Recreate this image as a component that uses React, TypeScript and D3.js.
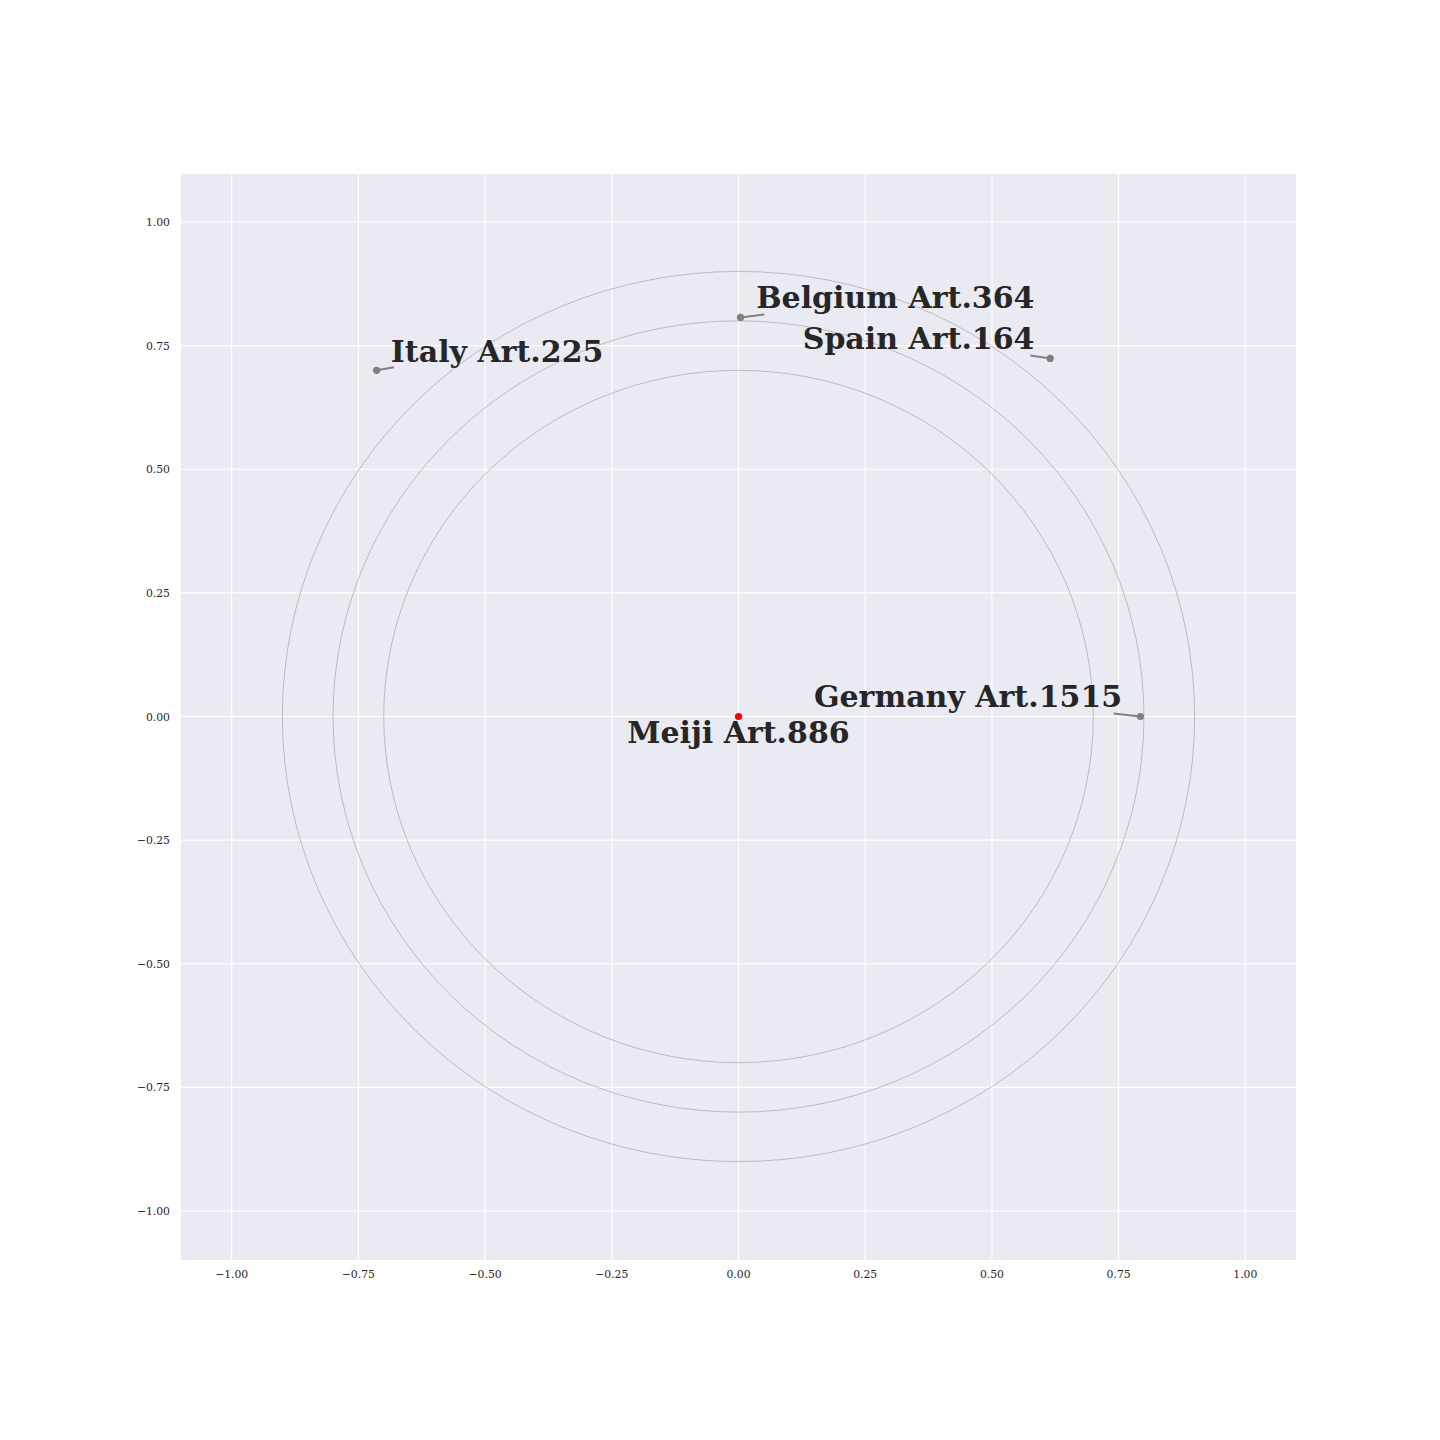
import React from "react";
import * as d3 from "d3";

const names = ["Meiji Art.886", "Germany Art.1515", "Belgium Art.364", "Spain Art.164", "Italy Art.225"];
const pointX = [0, 0.793, 0.004, 0.615, -0.714];
const pointY = [0, 0.0, 0.807, 0.724, 0.7];
const pointColor = ["#ff0000", "#808080", "#808080", "#808080", "#808080"];
const labelX = [0, 0.757, 0.584, 0.584, -0.686];
const labelY = [-0.053, 0.02, 0.827, 0.744, 0.716];
const labelAnchor = ["middle", "end", "end", "end", "start"];
const leaderX = [null, 0.74, 0.051, 0.576, -0.68];
const leaderY = [null, 0.006, 0.813, 0.73, 0.706];
const ringRadii = [0.7, 0.8, 0.9];
const ticks = [-1, -0.75, -0.5, -0.25, 0, 0.25, 0.5, 0.75, 1];

export default function App() {
  const W = 1440, H = 1440;
  const L = 181, R = 1296, T = 174, B = 1260;
  const x = d3.scaleLinear().domain([-1.1, 1.1]).range([L, R]);
  const y = d3.scaleLinear().domain([-1.1, 1.1]).range([1260.5, 172.5]);
  const fmt = (v: number) => d3.format(".2f")(v).replace("-", "\u2212");
  const font = "'DejaVu Serif', serif";
  return (
    <svg width={W} height={H} style={{ display: "block", position: "absolute", left: 0, top: 0 }}>
      <rect x={0} y={0} width={W} height={H} fill="#fff" />
      <rect x={L} y={T} width={R - L} height={B - T} fill="#EAEAF2" />
      {ticks.map((t) => (
        <line key={"gx" + t} x1={x(t)} x2={x(t)} y1={T} y2={B} stroke="#fff" strokeWidth={1.1} />
      ))}
      {ticks.map((t) => (
        <line key={"gy" + t} x1={L} x2={R} y1={y(t)} y2={y(t)} stroke="#fff" strokeWidth={1.1} />
      ))}
      {ringRadii.map((r) => (
        <ellipse key={"r" + r} cx={x(0)} cy={y(0)} rx={x(r) - x(0)} ry={y(0) - y(r)} fill="none" stroke="#9a9a9a" strokeWidth={0.6} />
      ))}
      {ticks.map((t) => (
        <text key={"tx" + t} x={x(t)} y={B + 18} textAnchor="middle" fontFamily={font} fontSize={10.8} fill="#262626">{fmt(t)}</text>
      ))}
      {ticks.map((t) => (
        <text key={"ty" + t} x={170} y={y(t) + 4} textAnchor="end" fontFamily={font} fontSize={10.8} fill="#262626">{fmt(t)}</text>
      ))}
      {names.map((n, i) =>
        leaderX[i] !== null ? (
          <line key={"l" + i} x1={x(pointX[i])} y1={y(pointY[i])} x2={x(leaderX[i] as number)} y2={y(leaderY[i] as number)} stroke="#808080" strokeWidth={2} />
        ) : null
      )}
      {names.map((n, i) => (
        <circle key={"p" + i} cx={x(pointX[i])} cy={y(pointY[i])} r={3.6} fill={pointColor[i]} />
      ))}
      {names.map((n, i) => (
        <text key={"t" + i} x={x(labelX[i])} y={y(labelY[i])} textAnchor={labelAnchor[i] as any} fontFamily={font} fontWeight="bold" fontSize={30} fill="#262626">{n}</text>
      ))}
    </svg>
  );
}
